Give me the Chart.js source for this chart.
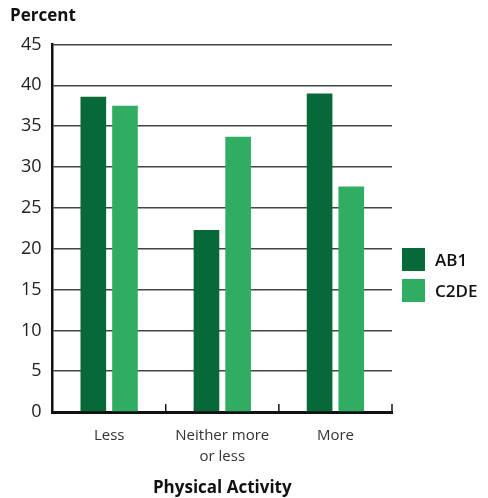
<!DOCTYPE html>
<html lang="en">
<head>
  <meta charset="UTF-8">
  <title>Physical Activity</title>
  <script src="https://cdn.jsdelivr.net/npm/chart.js"></script>
</head>
<body style="margin:0; background:#fff; font-family:'Open Sans', sans-serif;">

  <div style="position:relative; width:488px; height:498px;">
    <canvas id="chart" width="488" height="498"></canvas>
    <!-- legend sits at the right, beside the plot -->
    <div id="legend" style="position:absolute; left:402px; top:248px; font-size:17px; font-weight:600; color:#111;"></div>
  </div>

  <script>
    // data
    const categories = [['Less'], ['Neither more', 'or less'], ['More']];
    const seriesNames = ['AB1', 'C2DE'];
    const ab1 = [38.6, 22.3, 39.0];
    const c2de = [37.5, 33.7, 27.6];
    const yTicks = [0, 5, 10, 15, 20, 25, 30, 35, 40, 45];
    const colors = ['#066937', '#30ad63'];

    // small tick marks pointing up from the x axis, between the groups
    const innerTicks = {
      id: 'innerTicks',
      afterDatasetsDraw(chart) {
        const ctx = chart.ctx;
        const x = chart.scales.x;
        const bottom = chart.chartArea.bottom;
        ctx.save();
        ctx.strokeStyle = '#111';
        ctx.lineWidth = 1.5;
        for (let i = 0; i < categories.length; i++) {
          const px = x.getPixelForValue(i) + (x.getPixelForValue(1) - x.getPixelForValue(0)) / 2;
          ctx.beginPath();
          ctx.moveTo(px, bottom);
          ctx.lineTo(px, bottom - 8);
          ctx.stroke();
        }
        ctx.restore();
      }
    };

    new Chart(document.getElementById('chart'), {
      type: 'bar',
      data: {
        labels: categories,
        datasets: [
          { label: seriesNames[0], data: ab1, backgroundColor: colors[0] },
          { label: seriesNames[1], data: c2de, backgroundColor: colors[1] }
        ]
      },
      options: {
        responsive: false,
        animation: false,
        layout: { padding: { left: 10, right: 96, top: 6, bottom: 0 } },
        datasets: { bar: { categoryPercentage: 0.56, barPercentage: 0.81 } },
        scales: {
          x: {
            grid: { display: false, drawTicks: false },
            border: { color: '#111', width: 3 },
            ticks: { color: '#333', font: { size: 15, lineHeight: 1.35, family: "'Open Sans', sans-serif" }, padding: 14 },
            title: {
              display: true, text: 'Physical Activity', color: '#111',
              font: { size: 17, weight: 'bold', family: "'Open Sans', sans-serif" },
              padding: { top: -3, bottom: 0 }
            }
          },
          y: {
            min: 0, max: 45,
            afterBuildTicks(axis) { axis.ticks = yTicks.map(v => ({ value: v })); },
            grid: { color: '#444', lineWidth: 1.5, drawTicks: false },
            border: { color: '#111', width: 2.5 },
            ticks: { color: '#222', font: { size: 18, family: "'Open Sans', sans-serif" }, padding: 11 }
          }
        },
        plugins: {
          legend: { display: false },
          tooltip: { enabled: false },
          title: {
            display: true, text: 'Percent', align: 'start', color: '#111',
            font: { size: 17, weight: 'bold', family: "'Open Sans', sans-serif" },
            padding: { top: 0, bottom: 18 }
          }
        }
      },
      plugins: [innerTicks]
    });

    // html legend
    const legend = document.getElementById('legend');
    seriesNames.forEach((name, i) => {
      const row = document.createElement('div');
      row.style.cssText = 'display:flex; align-items:center; height:23px; margin-bottom:8px;';
      row.innerHTML = '<span style="display:inline-block; width:23px; height:23px; background:' + colors[i] + '; margin-right:10px;"></span>' + name;
      legend.appendChild(row);
    });
  </script>

</body>
</html>
